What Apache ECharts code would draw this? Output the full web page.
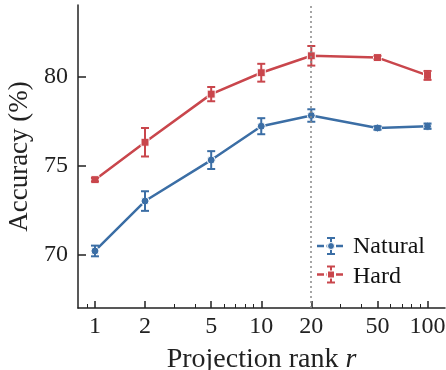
<!DOCTYPE html>
<html>
<head>
<meta charset="utf-8">
<script src="https://cdn.jsdelivr.net/npm/echarts@6/dist/echarts.min.js"></script>
<style>
  html, body { margin: 0; padding: 0; background: #fff; }
  #chart { width: 446px; height: 370px; }
</style>
</head>
<body>
<div id="chart"></div>
<script>
// projection ranks and accuracies
var ranks = [1, 2, 5, 10, 20, 50, 100];
var naturalAcc = [70.2, 73.0, 75.3, 77.2, 77.8, 77.1, 77.2];
var naturalErr = [0.3, 0.55, 0.5, 0.45, 0.35, 0.1, 0.15];
var hardAcc = [74.2, 76.3, 79.0, 80.2, 81.15, 81.05, 80.05];
var hardErr = [0.1, 0.8, 0.4, 0.5, 0.55, 0.1, 0.25];
var xTickLabels = [1, 2, 5, 10, 20, 50, 100];
var xMinorTicks = [0.9, 3, 4, 6, 7, 8, 9, 30, 40, 60, 70, 80, 90];
var yTickLabels = [70, 75, 80];
var chosenRank = 20;

var blue = '#3b6ea5';
var red = '#c9464c';
var font = 'Liberation Serif';

function lg(v) { return Math.log10(v); }

function pts(acc) {
  return ranks.map(function (r, i) { return [lg(r), acc[i]]; });
}
function errPts(acc, err) {
  return ranks.map(function (r, i) { return [lg(r), acc[i], err[i]]; });
}

function errorBar(color) {
  return function (params, api) {
    var x = api.value(0), y = api.value(1), e = api.value(2);
    var lo = api.coord([x, y - e]);
    var hi = api.coord([x, y + e]);
    var cap = 4;
    var st = { stroke: color, lineWidth: 2 };
    return {
      type: 'group',
      children: [
        { type: 'line', shape: { x1: lo[0], y1: lo[1], x2: hi[0], y2: hi[1] }, style: st },
        { type: 'line', shape: { x1: lo[0] - cap, y1: lo[1], x2: lo[0] + cap, y2: lo[1] }, style: st },
        { type: 'line', shape: { x1: hi[0] - cap, y1: hi[1], x2: hi[0] + cap, y2: hi[1] }, style: st }
      ]
    };
  };
}

// legend glyph: dashed line + error bar + marker, like matplotlib's errorbar handle
function legendGlyph(cx, cy, color, marker) {
  var st = { stroke: color, lineWidth: 2 };
  var m = marker === 'circle'
    ? { type: 'circle', shape: { cx: cx, cy: cy, r: 3.5 }, style: { fill: color, stroke: '#fff', lineWidth: 1 } }
    : { type: 'rect', shape: { x: cx - 3.5, y: cy - 3.5, width: 7, height: 7 }, style: { fill: color, stroke: '#fff', lineWidth: 1 } };
  return {
    type: 'group',
    silent: true,
    children: [
      { type: 'line', shape: { x1: cx - 14, y1: cy, x2: cx + 14, y2: cy }, style: { stroke: color, lineWidth: 2.5, lineDash: [7, 2.5] } },
      { type: 'line', shape: { x1: cx, y1: cy - 8, x2: cx, y2: cy + 8 }, style: st },
      { type: 'line', shape: { x1: cx - 4, y1: cy - 8, x2: cx + 4, y2: cy - 8 }, style: st },
      { type: 'line', shape: { x1: cx - 4, y1: cy + 8, x2: cx + 4, y2: cy + 8 }, style: st },
      m
    ]
  };
}

var chart = echarts.init(document.getElementById('chart'));
chart.setOption({
  animation: false,
  backgroundColor: '#fff',
  textStyle: { fontFamily: font },
  grid: { left: 78, right: 1, top: 5, bottom: 62, outerBoundsMode: 'none' },
  legend: {
    orient: 'vertical',
    left: 311,
    top: 229,
    itemWidth: 31,
    itemHeight: 24,
    itemGap: 3.5,
    icon: 'rect',
    itemStyle: { opacity: 0 },
    lineStyle: { opacity: 0 },
    textStyle: { fontFamily: font, fontSize: 24, color: '#111' },
    data: ['Natural', 'Hard']
  },
  graphic: [
    legendGlyph(331, 246, blue, 'circle'),
    legendGlyph(331, 274.5, red, 'rect')
  ],
  xAxis: [{
    type: 'value',
    min: -0.102,
    max: 2.105,
    name: '{a|Projection rank }{b|r}',
    nameLocation: 'middle',
    nameGap: 38,
    nameTextStyle: {
      rich: {
        a: { fontFamily: font, fontSize: 28, color: '#222' },
        b: { fontFamily: font, fontSize: 28, color: '#222', fontStyle: 'italic' }
      }
    },
    axisLine: { onZero: false, lineStyle: { color: '#222', width: 1.5 } },
    axisTick: { inside: true, length: 7, lineStyle: { color: '#222', width: 1.5 }, customValues: xTickLabels.map(lg) },
    axisLabel: {
      customValues: xTickLabels.map(lg),
      margin: 7,
      fontFamily: font, fontSize: 24, color: '#222',
      formatter: function (v) { return String(Math.round(Math.pow(10, v))); }
    },
    splitLine: { show: false }
  }, {
    type: 'value',
    min: -0.102,
    max: 2.105,
    position: 'bottom',
    axisLine: { show: false, onZero: false },
    axisTick: { inside: true, length: 4, lineStyle: { color: '#222', width: 1 }, customValues: xMinorTicks.map(lg) },
    axisLabel: { show: false },
    splitLine: { show: false }
  }],
  yAxis: {
    type: 'value',
    min: 67,
    max: 84,
    name: 'Accuracy (%)',
    nameLocation: 'middle',
    nameGap: 44,
    nameTextStyle: { fontFamily: font, fontSize: 27, color: '#222' },
    axisLine: { show: true, onZero: false, lineStyle: { color: '#222', width: 1.5 } },
    axisTick: { show: true, inside: true, length: 8, lineStyle: { color: '#222', width: 1.5 }, customValues: yTickLabels },
    axisLabel: { customValues: yTickLabels, margin: 10, fontFamily: font, fontSize: 24, color: '#222' },
    splitLine: { show: false }
  },
  series: [{
    name: 'Natural',
    type: 'line',
    data: pts(naturalAcc),
    color: blue,
    symbol: 'circle',
    symbolSize: 8,
    lineStyle: { width: 2.5 },
    itemStyle: { color: blue, borderColor: '#fff', borderWidth: 1 },
    z: 3,
    markLine: {
      silent: true,
      symbol: 'none',
      label: { show: false },
      lineStyle: { color: '#888', width: 1.5, type: [2, 3] },
      data: [{ xAxis: lg(chosenRank) }]
    }
  }, {
    name: 'Hard',
    type: 'line',
    data: pts(hardAcc),
    color: red,
    symbol: 'rect',
    symbolSize: 8,
    lineStyle: { width: 2.5 },
    itemStyle: { color: red, borderColor: '#fff', borderWidth: 1 },
    z: 3
  }, {
    name: 'Natural error',
    type: 'custom',
    data: errPts(naturalAcc, naturalErr),
    renderItem: errorBar(blue),
    encode: { x: 0, y: 1 },
    z: 4
  }, {
    name: 'Hard error',
    type: 'custom',
    data: errPts(hardAcc, hardErr),
    renderItem: errorBar(red),
    encode: { x: 0, y: 1 },
    z: 4
  }]
});
</script>
</body>
</html>
